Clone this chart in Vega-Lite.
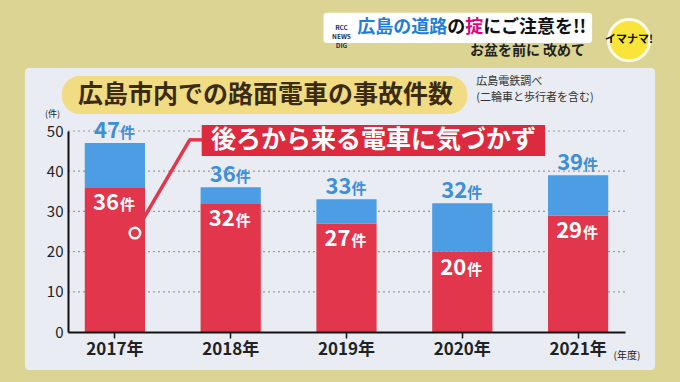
{
  "$schema": "https://vega.github.io/schema/vega-lite/v6.json",
  "width": 557,
  "height": 201,
  "autosize": {"type": "none"},
  "padding": {"left": 68, "top": 131, "right": 55, "bottom": 50},
  "background": "#dcd493",
  "config": {"font": "Noto Sans CJK JP", "view": {"stroke": null}},
  "datasets": {
    "accidents": [
      {"year": "2017年", "rear": 36, "total": 47},
      {"year": "2018年", "rear": 32, "total": 36},
      {"year": "2019年", "rear": 27, "total": 33},
      {"year": "2020年", "rear": 20, "total": 32},
      {"year": "2021年", "rear": 29, "total": 39}
    ]
  },
  "layer": [
    {
      "data": {"values": [{}]},
      "mark": {"type": "rect", "color": "#e9ecf2", "cornerRadius": 4, "xOffset": -90, "x2Offset": 77, "y2Offset": 38},
      "encoding": {
        "x": {
          "datum": "2017年", "type": "nominal",
          "scale": {"domain": ["2017年", "2018年", "2019年", "2020年", "2021年"], "paddingInner": 0.48, "paddingOuter": 0.145},
          "axis": {
            "title": "(年度)", "titleX": 545, "titleY": 23, "titleAlign": "left", "titleBaseline": "middle",
            "titleFontSize": 10, "titleFontWeight": "normal", "titleColor": "#222",
            "labelAngle": 0, "labelFontSize": 17, "labelFontWeight": "bold", "labelColor": "#222", "labelPadding": 3,
            "tickColor": "#111", "tickSize": 6, "tickWidth": 1.5, "domainColor": "#111", "domainWidth": 2, "zindex": 1
          }
        },
        "x2": {"datum": "2021年"},
        "y": {
          "datum": 65.7, "type": "quantitative",
          "scale": {"domain": [0, 50], "nice": false},
          "axis": {
            "title": "(件)", "titleAngle": 0, "titleAlign": "center", "titleBaseline": "middle",
            "titleX": -16, "titleY": -18, "titleFontSize": 9, "titleFontWeight": "normal", "titleColor": "#222",
            "values": [0, 10, 20, 30, 40, 50], "labelFontSize": 15, "labelColor": "#222", "labelPadding": 5,
            "ticks": false, "domainColor": "#111", "domainWidth": 2, "grid": false, "zindex": 1
          }
        },
        "y2": {"datum": 0}
      }
    },
    {
      "data": {"values": [{"v": 10}, {"v": 20}, {"v": 30}, {"v": 40}, {"v": 50}]},
      "mark": {"type": "rule", "color": "#9a9a9a", "strokeWidth": 1.2, "strokeDash": [2, 3]},
      "encoding": {
        "y": {"field": "v", "type": "quantitative"}
      }
    },
    {
      "data": {"name": "accidents"},
      "mark": {"type": "bar", "color": "#e2364c"},
      "encoding": {
        "x": {"field": "year", "type": "nominal"},
        "y": {"field": "rear", "type": "quantitative"}
      }
    },
    {
      "data": {"name": "accidents"},
      "mark": {"type": "bar", "color": "#4d9de4"},
      "encoding": {
        "x": {"field": "year", "type": "nominal"},
        "y": {"field": "rear", "type": "quantitative"},
        "y2": {"field": "total"}
      }
    },
    {
      "data": {"name": "accidents"},
      "mark": {"type": "text", "align": "right", "baseline": "alphabetic", "dx": 5, "dy": -5, "fontSize": 22, "fontWeight": "bold", "color": "#3d8fd8"},
      "encoding": {
        "x": {"field": "year", "type": "nominal"},
        "y": {"field": "total", "type": "quantitative"},
        "text": {"field": "total"}
      }
    },
    {
      "data": {"name": "accidents"},
      "mark": {"type": "text", "align": "left", "baseline": "alphabetic", "dx": 5, "dy": -5, "fontSize": 15, "fontWeight": "bold", "color": "#3d8fd8"},
      "encoding": {
        "x": {"field": "year", "type": "nominal"},
        "y": {"field": "total", "type": "quantitative"},
        "text": {"value": "件"}
      }
    },
    {
      "data": {"name": "accidents"},
      "mark": {"type": "text", "align": "right", "baseline": "alphabetic", "dx": 4, "dy": 23, "fontSize": 22, "fontWeight": "bold", "color": "#ffffff"},
      "encoding": {
        "x": {"field": "year", "type": "nominal"},
        "y": {"field": "rear", "type": "quantitative"},
        "text": {"field": "rear"}
      }
    },
    {
      "data": {"name": "accidents"},
      "mark": {"type": "text", "align": "left", "baseline": "alphabetic", "dx": 5, "dy": 23, "fontSize": 15, "fontWeight": "bold", "color": "#ffffff"},
      "encoding": {
        "x": {"field": "year", "type": "nominal"},
        "y": {"field": "rear", "type": "quantitative"},
        "text": {"value": "件"}
      }
    },
    {
      "data": {"values": [{}]},
      "mark": {"type": "rule", "color": "#e2364c", "strokeWidth": 3.5, "xOffset": 20, "x2Offset": -41},
      "encoding": {
        "x": {"datum": "2017年", "type": "nominal"},
        "x2": {"datum": "2018年"},
        "y": {"datum": 24.6, "type": "quantitative"},
        "y2": {"datum": 47.8}
      }
    },
    {
      "data": {"values": [{}]},
      "mark": {"type": "rule", "color": "#e2364c", "strokeWidth": 3.5, "xOffset": -42, "x2Offset": -20},
      "encoding": {
        "x": {"datum": "2018年", "type": "nominal"},
        "x2": {"datum": "2018年"},
        "y": {"datum": 47.8, "type": "quantitative"}
      }
    },
    {
      "data": {"values": [{}]},
      "mark": {"type": "point", "shape": "circle", "filled": true, "fill": "#e2364c", "stroke": "#ffffff", "strokeWidth": 2.5, "size": 110, "opacity": 1, "strokeOpacity": 1, "fillOpacity": 1, "xOffset": 20},
      "encoding": {
        "x": {"datum": "2017年", "type": "nominal"},
        "y": {"datum": 24.6, "type": "quantitative"}
      }
    },
    {
      "data": {"values": [{}]},
      "mark": {"type": "rect", "color": "#dc2a3e", "xOffset": -29, "x2Offset": -33},
      "encoding": {
        "x": {"datum": "2018年", "type": "nominal"},
        "x2": {"datum": "2021年"},
        "y": {"datum": 43.8, "type": "quantitative"},
        "y2": {"datum": 51.5}
      }
    },
    {
      "data": {"values": [{}]},
      "mark": {"type": "text", "align": "center", "baseline": "middle", "dx": 27, "fontSize": 25, "fontWeight": "bold", "color": "#ffffff"},
      "encoding": {
        "x": {"datum": "2019年", "type": "nominal"},
        "y": {"datum": 47.7, "type": "quantitative"},
        "text": {"value": "後ろから来る電車に気づかず"}
      }
    },
    {
      "data": {"values": [{}]},
      "mark": {"type": "rect", "color": "#f1dc84", "cornerRadius": 18, "xOffset": -53, "x2Offset": 5},
      "encoding": {
        "x": {"datum": "2017年", "type": "nominal"},
        "x2": {"datum": "2020年"},
        "y": {"datum": 54.2, "type": "quantitative"},
        "y2": {"datum": 63.7}
      }
    },
    {
      "data": {"values": [{}]},
      "mark": {"type": "text", "align": "left", "baseline": "middle", "dx": -37, "fontSize": 25, "fontWeight": "bold", "color": "#3a2b12"},
      "encoding": {
        "x": {"datum": "2017年", "type": "nominal"},
        "y": {"datum": 59.0, "type": "quantitative"},
        "text": {"value": "広島市内での路面電車の事故件数"}
      }
    },
    {
      "data": {"values": [{"t": "広島電鉄調べ", "v": 62.2}, {"t": "(二輪車と歩行者を含む)", "v": 58.2}]},
      "mark": {"type": "text", "align": "left", "baseline": "middle", "dx": 14, "fontSize": 11, "color": "#333"},
      "encoding": {
        "x": {"datum": "2020年", "type": "nominal"},
        "y": {"field": "v", "type": "quantitative"},
        "text": {"field": "t"}
      }
    },
    {
      "data": {"values": [{}]},
      "mark": {"type": "rect", "color": "#ffffff", "cornerRadius": 3, "xOffset": -23, "x2Offset": 14},
      "encoding": {
        "x": {"datum": "2019年", "type": "nominal"},
        "x2": {"datum": "2021年"},
        "y": {"datum": 71.9, "type": "quantitative"},
        "y2": {"datum": 79.4}
      }
    },
    {
      "data": {"values": [{}]},
      "mark": {"type": "text", "align": "center", "baseline": "middle", "dx": -5, "fontSize": 6.5, "fontWeight": "bold", "color": "#1a2a5a", "lineHeight": 9},
      "encoding": {
        "x": {"datum": "2019年", "type": "nominal"},
        "y": {"datum": 75.6, "type": "quantitative"},
        "text": {"value": ["RCC", "NEWS", "DIG"]}
      }
    },
    {
      "data": {"values": [{}]},
      "mark": {"type": "text", "align": "right", "baseline": "middle", "dx": -15, "fontSize": 18, "fontWeight": "bold", "color": "#1f7fd6"},
      "encoding": {
        "x": {"datum": "2020年", "type": "nominal"},
        "y": {"datum": 75.6, "type": "quantitative"},
        "text": {"value": "広島の道路"}
      }
    },
    {
      "data": {"values": [{}]},
      "mark": {"type": "text", "align": "left", "baseline": "middle", "dx": -15, "fontSize": 18, "fontWeight": "bold", "color": "#111"},
      "encoding": {
        "x": {"datum": "2020年", "type": "nominal"},
        "y": {"datum": 75.6, "type": "quantitative"},
        "text": {"value": "の"}
      }
    },
    {
      "data": {"values": [{}]},
      "mark": {"type": "text", "align": "left", "baseline": "middle", "dx": 3, "fontSize": 18, "fontWeight": "bold", "color": "#e4007f"},
      "encoding": {
        "x": {"datum": "2020年", "type": "nominal"},
        "y": {"datum": 75.6, "type": "quantitative"},
        "text": {"value": "掟"}
      }
    },
    {
      "data": {"values": [{}]},
      "mark": {"type": "text", "align": "left", "baseline": "middle", "dx": 21, "fontSize": 18, "fontWeight": "bold", "color": "#111"},
      "encoding": {
        "x": {"datum": "2020年", "type": "nominal"},
        "y": {"datum": 75.6, "type": "quantitative"},
        "text": {"value": "にご注意を!!"}
      }
    },
    {
      "data": {"values": [{}]},
      "mark": {"type": "text", "align": "right", "baseline": "middle", "dx": 7, "fontSize": 14, "fontWeight": "bold", "color": "#222"},
      "encoding": {
        "x": {"datum": "2021年", "type": "nominal"},
        "y": {"datum": 69.9, "type": "quantitative"},
        "text": {"value": "お盆を前に 改めて"}
      }
    },
    {
      "data": {"values": [{}]},
      "mark": {"type": "point", "shape": "circle", "filled": true, "fill": "#f9e43a", "stroke": "#fffbe6", "strokeWidth": 3, "size": 1700, "opacity": 1, "fillOpacity": 1, "strokeOpacity": 1, "xOffset": 51},
      "encoding": {
        "x": {"datum": "2021年", "type": "nominal"},
        "y": {"datum": 72.6, "type": "quantitative"}
      }
    },
    {
      "data": {"values": [{}]},
      "mark": {"type": "text", "align": "center", "baseline": "middle", "dx": 51, "fontSize": 11, "fontWeight": "bold", "color": "#111"},
      "encoding": {
        "x": {"datum": "2021年", "type": "nominal"},
        "y": {"datum": 72.6, "type": "quantitative"},
        "text": {"value": "イマナマ!"}
      }
    }
  ]
}
